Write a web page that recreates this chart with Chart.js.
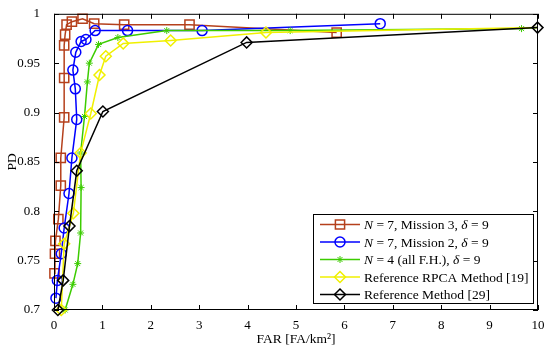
<!DOCTYPE html>
<html lang="en">
<head>
  <meta charset="UTF-8">
  <title>PD vs FAR</title>
  <script src="https://cdn.jsdelivr.net/npm/chart.js"></script>
  <style>
    html, body { margin: 0; padding: 0; background: #fff; }
    #wrap { width: 550px; height: 350px; }
  </style>
</head>
<body>
  <div id="wrap"><canvas id="graphique" width="550" height="350"></canvas></div>

  <script>
    // N = 7, Mission 3
    const m3Far = [0.01, 0.02, 0.03, 0.09, 0.14, 0.14, 0.21, 0.21, 0.21, 0.23, 0.26, 0.37, 0.59, 0.83, 1.45, 2.80, 5.84];
    const m3Pd  = [0.737, 0.757, 0.770, 0.792, 0.826, 0.854, 0.895, 0.935, 0.968, 0.979, 0.989, 0.992, 0.995, 0.990, 0.989, 0.989, 0.981];
    // N = 7, Mission 2
    const m2Far = [0.04, 0.07, 0.15, 0.21, 0.31, 0.37, 0.47, 0.44, 0.39, 0.45, 0.56, 0.66, 0.85, 1.52, 3.06, 6.74];
    const m2Pd  = [0.712, 0.730, 0.757, 0.783, 0.818, 0.854, 0.893, 0.924, 0.943, 0.961, 0.972, 0.974, 0.983, 0.983, 0.983, 0.990];
    // N = 4 (all F.H.)
    const n4Far = [0.23, 0.39, 0.49, 0.55, 0.56, 0.55, 0.63, 0.69, 0.73, 0.92, 1.32, 2.33, 4.88, 9.66, 10];
    const n4Pd  = [0.700, 0.726, 0.747, 0.778, 0.824, 0.859, 0.896, 0.931, 0.950, 0.969, 0.976, 0.983, 0.983, 0.985, 0.986];
    // Reference RPCA Method [19]
    const rpcaFar = [0.15, 0.21, 0.40, 0.55, 0.76, 0.94, 1.07, 1.43, 2.41, 4.38, 10];
    const rpcaPd  = [0.700, 0.767, 0.798, 0.859, 0.899, 0.938, 0.957, 0.970, 0.973, 0.981, 0.986];
    // Reference Method [29]
    const refFar = [0.08, 0.19, 0.32, 0.47, 1.01, 3.98, 9.99];
    const refPd  = [0.700, 0.730, 0.785, 0.841, 0.901, 0.971, 0.986];

    const xTicks = [0, 1, 2, 3, 4, 5, 6, 7, 8, 9, 10];
    const yTicks = [0.7, 0.75, 0.8, 0.85, 0.9, 0.95, 1];

    const police = "'Liberation Serif', 'Times New Roman', serif";

    const series = [
      { nom: ["N", " = 7, Mission 3, ", "δ", " = 9"], x: m3Far, y: m3Pd, couleur: "#b5401c", style: "rect", r: 6.5 },
      { nom: ["N", " = 7, Mission 2, ", "δ", " = 9"], x: m2Far, y: m2Pd, couleur: "#0000ff", style: "circle", r: 5 },
      { nom: ["N", " = 4 (all F.H.), ", "δ", " = 9"], x: n4Far, y: n4Pd, couleur: "#3ccc00", style: "star", r: 3.5 },
      { nom: ["", "Reference RPCA Method [19]"], x: rpcaFar, y: rpcaPd, couleur: "#f0f000", style: "rectRot", r: 5.5 },
      { nom: ["", "Reference Method [29]"], x: refFar, y: refPd, couleur: "#000000", style: "rectRot", r: 5.5 }
    ];

    const datasets = series.map((s, i) => ({
      label: s.nom.join(""),
      data: s.x.map((v, k) => ({ x: v, y: s.y[k] })),
      showLine: true,
      borderColor: s.couleur,
      backgroundColor: "rgba(0,0,0,0)",
      borderWidth: 1.5,
      pointStyle: s.style,
      // pas de marque visible au point x = 10 (caché sous le losange noir)
      pointRadius: s.x.map(v => (v === 10 && i !== 4) ? 0 : s.r),
      pointBorderWidth: s.style === "star" ? 1 : 1.5,
      pointBorderColor: s.couleur,
      pointBackgroundColor: "rgba(0,0,0,0)",
      tension: 0,
      clip: false,
      order: series.length - i
    }));

    // Cadre avec graduations intérieures + légende dans le coin
    const cadre = {
      id: "cadre",
      afterDatasetsDraw(chart) {
        const c = chart.ctx;
        const a = chart.chartArea;
        const sx = chart.scales.x, sy = chart.scales.y;
        c.save();
        c.strokeStyle = "#000";
        c.lineWidth = 1;
        c.strokeRect(a.left + 0.5, a.top + 0.5, a.right - a.left - 1, a.bottom - a.top - 1);
        c.beginPath();
        xTicks.forEach(v => {
          const px = Math.round(sx.getPixelForValue(v)) + 0.5;
          c.moveTo(px, a.bottom); c.lineTo(px, a.bottom - 5);
          c.moveTo(px, a.top); c.lineTo(px, a.top + 5);
        });
        yTicks.forEach(v => {
          const py = Math.round(sy.getPixelForValue(v)) + 0.5;
          c.moveTo(a.left, py); c.lineTo(a.left + 5, py);
          c.moveTo(a.right, py); c.lineTo(a.right - 5, py);
        });
        c.stroke();

        // légende
        const bx = 313, by = 214, bw = 220, bh = 89;
        c.fillStyle = "#fff";
        c.fillRect(bx, by, bw, bh);
        c.strokeRect(bx + 0.5, by + 0.5, bw, bh);
        series.forEach((s, i) => {
          const y = by + 10.5 + i * 17.5;
          c.strokeStyle = s.couleur;
          c.lineWidth = 1.5;
          c.beginPath();
          c.moveTo(bx + 7, y); c.lineTo(bx + 47, y);
          c.stroke();
          c.lineWidth = s.style === "star" ? 1 : 1.5;
          dessinerMarque(c, s.style, bx + 27, y, s.r);
          let tx = bx + 51;
          c.fillStyle = "#000";
          c.textBaseline = "middle";
          s.nom.forEach((morceau, k) => {
            c.font = (k % 2 === 0 ? "italic " : "") + "13.5px " + police;
            c.fillText(morceau, tx, y + 1);
            tx += c.measureText(morceau).width;
          });
        });
        c.restore();
      }
    };

    function dessinerMarque(c, style, x, y, r) {
      c.beginPath();
      if (style === "rect") {
        const s = r * Math.SQRT1_2;
        c.rect(x - s, y - s, 2 * s, 2 * s);
      } else if (style === "circle") {
        c.arc(x, y, r, 0, Math.PI * 2);
      } else if (style === "rectRot") {
        c.moveTo(x, y - r); c.lineTo(x + r, y); c.lineTo(x, y + r); c.lineTo(x - r, y); c.closePath();
      } else {
        c.moveTo(x - r, y); c.lineTo(x + r, y);
        c.moveTo(x, y - r); c.lineTo(x, y + r);
        const d = r * Math.SQRT1_2;
        c.moveTo(x - d, y - d); c.lineTo(x + d, y + d);
        c.moveTo(x - d, y + d); c.lineTo(x + d, y - d);
      }
      c.stroke();
    }

    new Chart(document.getElementById("graphique"), {
      type: "scatter",
      data: { datasets: datasets },
      plugins: [cadre],
      options: {
        responsive: false,
        animation: false,
        layout: { padding: { top: 13, right: 12, left: 0, bottom: 0 } },
        plugins: { legend: { display: false }, tooltip: { enabled: false } },
        scales: {
          x: {
            type: "linear",
            min: 0, max: 10,
            afterBuildTicks: s => { s.ticks = xTicks.map(v => ({ value: v })); },
            afterFit: s => { s.height = 40; },
            grid: { display: false },
            border: { display: false },
            ticks: { color: "#000", padding: 0, font: { family: police, size: 13 } },
            title: { display: true, text: "FAR [FA/km²]", color: "#000", padding: { top: 2, bottom: 2 }, font: { family: police, size: 13.5 } }
          },
          y: {
            type: "linear",
            min: 0.7, max: 1,
            afterBuildTicks: s => { s.ticks = yTicks.map(v => ({ value: v })); },
            afterFit: s => { s.width = 54; },
            grid: { display: false },
            border: { display: false },
            ticks: { color: "#000", padding: 6, font: { family: police, size: 13 }, callback: v => String(v) },
            title: { display: true, text: "PD", color: "#000", padding: { top: 4, bottom: 0 }, font: { family: police, size: 13.5 } }
          }
        }
      }
    });
  </script>
</body>
</html>
